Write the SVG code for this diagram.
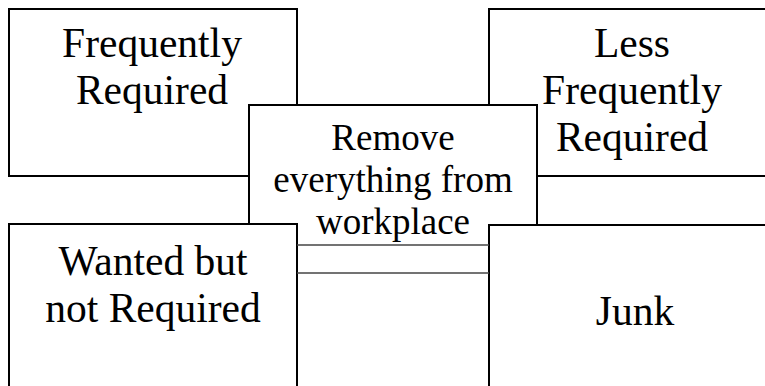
<svg xmlns="http://www.w3.org/2000/svg" width="765" height="386" viewBox="0 0 765 386">
<style>
.box{fill:#fff;stroke:#000;stroke-width:2}
.lbl{font-family:"Liberation Serif","Times New Roman",serif;font-size:41.5px;fill:#000;text-anchor:middle}
.clbl{font-family:"Liberation Serif","Times New Roman",serif;font-size:37px;fill:#000;text-anchor:middle}
.conn{stroke:#444;stroke-width:1.5;fill:none}
</style>
<rect width="765" height="386" fill="#fff"/>
<g id="frequently-required">
<rect class="box" x="9" y="9" width="288" height="167"/>
<text class="lbl" x="152" y="57">Frequently</text>
<text class="lbl" x="152" y="104">Required</text>
</g>
<g id="less-frequently-required">
<rect class="box" x="489" y="9" width="290" height="167"/>
<text class="lbl" x="632" y="57">Less</text>
<text class="lbl" x="632" y="104">Frequently</text>
<text class="lbl" x="632" y="151">Required</text>
</g>
<g id="remove-everything">
<path class="box" d="M249,245 V105 H537 V245"/>
<text class="clbl" x="393" y="150">Remove</text>
<text class="clbl" x="393" y="192">everything from</text>
<text class="clbl" x="393" y="234">workplace</text>
</g>
<g id="wanted-not-required">
<rect class="box" x="9" y="224" width="288" height="200"/>
<text class="lbl" x="153" y="275">Wanted but</text>
<text class="lbl" x="153" y="322">not Required</text>
</g>
<g id="junk">
<rect class="box" x="489" y="225" width="290" height="200"/>
<text class="lbl" x="635" y="325">Junk</text>
</g>
<g id="connectors">
<line class="conn" x1="297" y1="245" x2="489" y2="245"/>
<line class="conn" x1="297" y1="273" x2="489" y2="273"/>
</g>
</svg>
